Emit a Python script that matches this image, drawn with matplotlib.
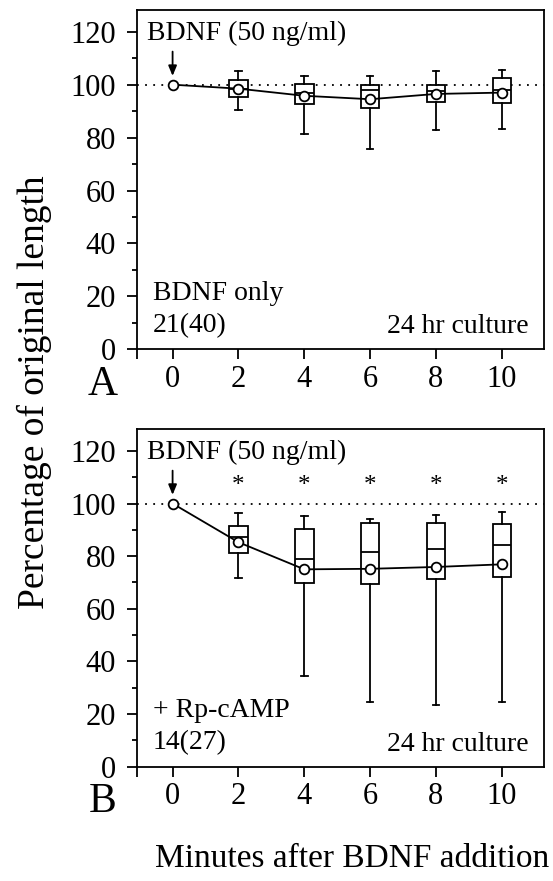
"""Box plots of neurite length after BDNF addition (A: BDNF only, B: + Rp-cAMP)."""
import matplotlib
matplotlib.use("Agg")
import matplotlib.pyplot as plt

plt.rcParams["font.family"] = ["Liberation Serif", "DejaVu Serif"]

MINUTES = [0, 2, 4, 6, 8, 10]
BOX_MINUTES = [2, 4, 6, 8, 10]

# panel A: BDNF only
A_MEAN = [100, 98.5, 95.8, 94.5, 96.5, 97.0]
A_Q1 = [95.4, 92.7, 91.1, 93.6, 93.1]
A_MED = [98.5, 97.0, 97.8, 97.5, 98.0]
A_Q3 = [101.7, 100.3, 99.7, 100.0, 102.6]
A_LO = [90.6, 81.2, 75.7, 82.7, 83.1]
A_HI = [105.3, 103.4, 103.4, 105.1, 105.5]

# panel B: BDNF + Rp-cAMP
B_MEAN = [100, 85.3, 75.0, 75.2, 75.9, 76.9]
B_Q1 = [81.2, 69.8, 69.6, 71.5, 72.0]
B_MED = [87.3, 79.0, 81.7, 82.9, 84.3]
B_Q3 = [91.5, 90.5, 92.5, 92.5, 92.4]
B_LO = [71.6, 34.5, 24.6, 23.3, 24.6]
B_HI = [96.3, 95.2, 94.3, 95.7, 96.9]
B_STAR = [2, 4, 6, 8, 10]

PANELS = [
    dict(letter="A", mean=A_MEAN, q1=A_Q1, med=A_MED, q3=A_Q3, lo=A_LO, hi=A_HI,
         stars=[], cond="BDNF only", n="21(40)"),
    dict(letter="B", mean=B_MEAN, q1=B_Q1, med=B_MED, q3=B_Q3, lo=B_LO, hi=B_HI,
         stars=B_STAR, cond="+ Rp-cAMP", n="14(27)"),
]

FS = 20
XMIN, XMAX = -1.09, 11.28
fig = plt.figure(figsize=(5.53, 8.81), dpi=100)
rects = [(0.2472, 0.6035, 0.7365, 0.3851), (0.2472, 0.1297, 0.7365, 0.3830)]

for p, rect in zip(PANELS, rects):
    ax = fig.add_axes(rect)
    stats = [dict(med=m, q1=a, q3=b, whislo=lo, whishi=hi, fliers=[])
             for m, a, b, lo, hi in zip(p["med"], p["q1"], p["q3"], p["lo"], p["hi"])]
    lw = 1.3
    ax.bxp(stats, positions=BOX_MINUTES, widths=0.56, patch_artist=True,
           showfliers=False, manage_ticks=False,
           boxprops=dict(facecolor="white", edgecolor="black", linewidth=lw),
           medianprops=dict(color="black", linewidth=lw),
           whiskerprops=dict(color="black", linewidth=lw),
           capprops=dict(color="black", linewidth=lw), capwidths=0.2)
    ax.axhline(100, color="black", linestyle=(0, (1, 3.5)), linewidth=1.3, zorder=1)
    ax.plot(MINUTES, p["mean"], color="black", linewidth=lw, marker="o",
            markersize=7, markerfacecolor="white", markeredgewidth=1.3, zorder=5)
    for s in p["stars"]:
        ax.text(s, 106.5, "*", ha="center", va="center", fontsize=18)

    ax.annotate("", xy=(0, 103.3), xytext=(0, 112.5),
                arrowprops=dict(arrowstyle="-|>,head_length=0.6,head_width=0.25",
                                color="black", lw=1.3, shrinkA=0, shrinkB=0))
    ax.text(-0.78, 119.5, "BDNF (50 ng/ml)", ha="left", va="center", fontsize=FS)
    ax.text(-0.61, 21.2, p["cond"], ha="left", va="center", fontsize=FS)
    ax.text(-0.61, 9.0, p["n"], ha="left", va="center", fontsize=FS)
    ax.text(10.81, 8.6, "24 hr culture", ha="right", va="center", fontsize=FS)

    ax.set_xlim(XMIN, XMAX)
    ax.set_ylim(0, 128.2)
    ax.set_xticks(MINUTES)
    ax.set_xticks([XMIN], minor=True)
    ax.set_yticks(range(0, 121, 20))
    ax.set_yticks(range(10, 121, 20), minor=True)
    ax.tick_params(axis="both", which="major", direction="out", length=7, width=1.3,
                   labelsize=22)
    ax.tick_params(axis="y", which="major", pad=8)
    ax.tick_params(axis="x", which="major", pad=4)
    ax.tick_params(axis="y", which="minor", direction="out", length=3.5, width=1.3)
    ax.tick_params(axis="x", which="minor", direction="out", length=7, width=1.3)
    for sp in ax.spines.values():
        sp.set_linewidth(1.3)
    ax.text(-0.083, -0.105, p["letter"], transform=ax.transAxes, fontsize=30,
            ha="center", va="center")

fig.text(0.063, 0.555, "Percentage of original length", rotation=90,
         ha="center", va="center", fontsize=27)
fig.text(0.637, 0.025, "Minutes after BDNF addition", ha="center", va="center",
         fontsize=24)

fig.savefig("out.png", dpi=100)
